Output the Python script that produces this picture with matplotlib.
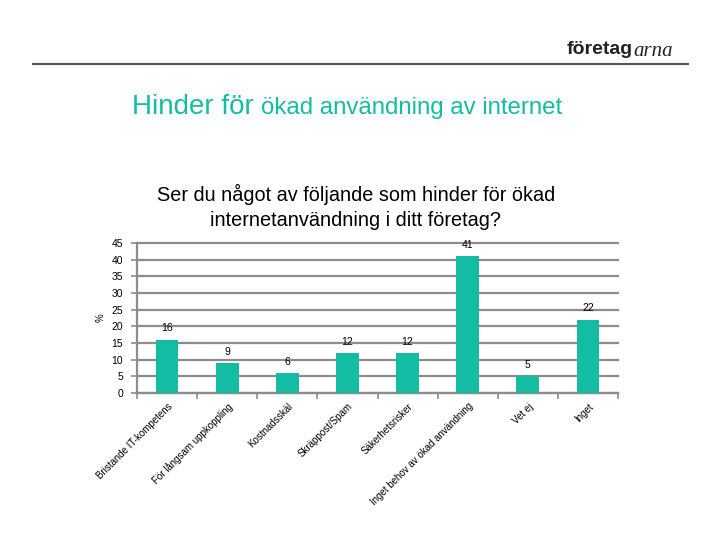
import numpy as np
import matplotlib.pyplot as plt

categories = ["Bristande IT-kompetens", "För långsam uppkoppling", "Kostnadsskäl",
              "Skräppost/Spam", "Säkerhetsrisker", "Inget behov av ökad användning",
              "Vet ej", "Inget"]
values = [16, 9, 6, 12, 12, 41, 5, 22]
yticks = [0, 5, 10, 15, 20, 25, 30, 35, 40, 45]

teal = "#14BCA3"
grey = "#8C8C8C"

fig = plt.figure(figsize=(7.2, 5.4), dpi=100)
fig.patch.set_facecolor("white")

# header line + logo
fig.add_artist(plt.Line2D([33/720, 688/720], [1-64/540, 1-64/540], color="#555555", lw=1.5))
fig.text(567/720, 1-50/540, "företag", fontsize=14, fontweight="bold", color="#222222",
         va="center", ha="left", family="Liberation Sans")
fig.text(633/720, 1-51/540, "arna", fontsize=15, style="italic", color="#222222",
         va="center", ha="left", family="Liberation Serif")

# titles
fig.text(132/720, 1-107/540, "Hinder för", fontsize=20, color=teal, va="center", ha="left",
         family="Liberation Sans")
fig.text(261/720, 1-108/540, "ökad användning av internet", fontsize=17.3, color=teal,
         va="center", ha="left", family="Liberation Sans")
fig.text(356/720, 1-207/540, "Ser du något av följande som hinder för ökad\ninternetanvändning i ditt företag?",
         fontsize=14.3, color="black", va="center", ha="center", linespacing=1.4,
         family="Liberation Sans")

ax = fig.add_axes([137/720, 1-393/540, (618-137)/720, (393-243)/540])
x = np.arange(len(categories))
bars = ax.bar(x, values, width=0.38, color=teal, zorder=3)
for xi, v in zip(x, values):
    ax.text(xi, v + 3.4, str(v), ha="center", va="center", fontsize=7.5, family="Liberation Sans")

ax.set_xlim(-0.5, len(categories) - 0.5)
ax.set_ylim(0, 45)
ax.set_yticks(yticks)
ax.set_yticklabels([str(t) for t in yticks], fontsize=7.5, family="Liberation Sans")
ax.yaxis.grid(True, color=grey, lw=1.6, zorder=0)
for gl in ax.get_ygridlines():
    gl.set_clip_on(False)
ax.set_axisbelow(True)
for s in ["top", "right"]:
    ax.spines[s].set_visible(False)
for s in ["left", "bottom"]:
    ax.spines[s].set_color(grey)
    ax.spines[s].set_linewidth(1.6)
ax.tick_params(axis="y", colors=grey, length=4, width=1.2, labelcolor="black", pad=6)

ax.set_xticks(x)
ax.set_xticklabels(categories, rotation=45, ha="right", rotation_mode="anchor",
                   fontsize=7, family="Liberation Sans")
ax.tick_params(axis="x", length=0, pad=6)
ax.set_xticks(np.arange(-0.5, len(categories), 1), minor=True)
ax.tick_params(axis="x", which="minor", length=4, width=1.2, colors=grey)

ax.set_ylabel("%", fontsize=7, labelpad=4, family="Liberation Sans")

fig.savefig("out.png", dpi=100)
